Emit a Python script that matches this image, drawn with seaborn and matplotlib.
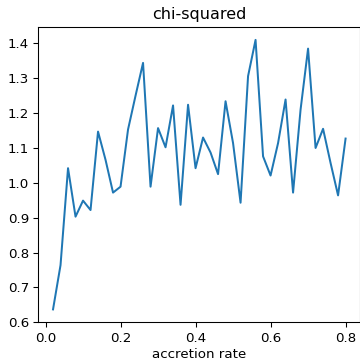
import matplotlib
matplotlib.use('Agg')
import matplotlib.pyplot as plt
import seaborn as sns
import pandas as pd

# accretion rate vs chi-squared values
accretion_rate = [0.02, 0.04, 0.06, 0.08, 0.10, 0.12, 0.14, 0.16, 0.18, 0.20,
                  0.22, 0.24, 0.26, 0.28, 0.30, 0.32, 0.34, 0.36, 0.38, 0.40,
                  0.42, 0.44, 0.46, 0.48, 0.50, 0.52, 0.54, 0.56, 0.58, 0.60,
                  0.62, 0.64, 0.66, 0.68, 0.70, 0.72, 0.74, 0.76, 0.78, 0.80]
chi_squared = [0.637, 0.764, 1.042, 0.903, 0.949, 0.922, 1.147, 1.066, 0.972, 0.989,
               1.153, 1.250, 1.344, 0.989, 1.157, 1.102, 1.222, 0.937, 1.224, 1.042,
               1.130, 1.087, 1.025, 1.234, 1.114, 0.943, 1.306, 1.410, 1.076, 1.021,
               1.114, 1.239, 0.972, 1.210, 1.385, 1.100, 1.155, 1.057, 0.964, 1.127]

df = pd.DataFrame({'accretion rate': accretion_rate, 'chi': chi_squared})

# rendered at 96 dpi so fonts/lines come out slightly smaller, like the reference
fig = plt.figure(figsize=(360 / 96, 361 / 96), dpi=96)
ax = fig.add_axes([38.4 / 360, 38.7 / 361, 321.8 / 360, 295.3 / 361])
sns.lineplot(data=df, x='accretion rate', y='chi', ax=ax, color='#1f77b4', linewidth=1.5)
ax.set_ylim(0.6, 1.447)
ax.set_xlim(-0.019, 0.839)
ax.set_xticks([0.0, 0.2, 0.4, 0.6, 0.8])
ax.set_title('chi-squared')
ax.set_xlabel('accretion rate', labelpad=2.5)
ax.set_ylabel('')

fig.savefig('out.png', dpi=96)
